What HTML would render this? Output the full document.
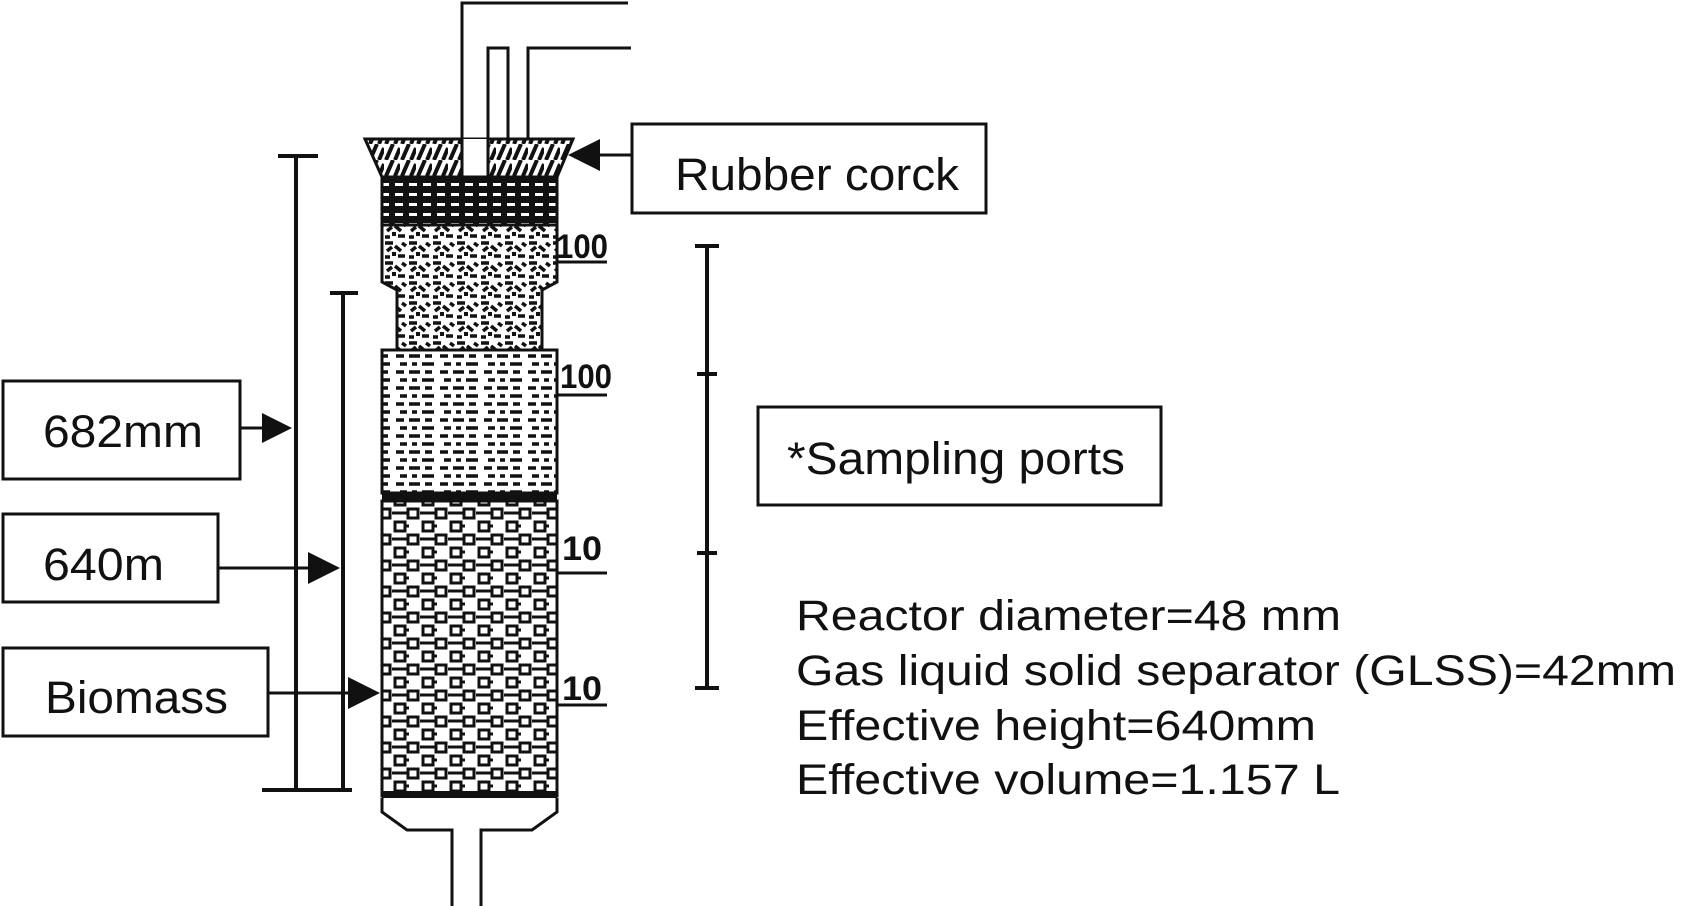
<!DOCTYPE html>
<html><head><meta charset="utf-8"><style>
html,body{margin:0;padding:0;background:#fff;}
svg{display:block;}
text{font-family:"Liberation Sans",sans-serif;fill:#111;}
</style></head><body>
<svg width="1691" height="906" viewBox="0 0 1691 906" xmlns="http://www.w3.org/2000/svg">
<defs>
<pattern id="hatch" width="16" height="16" patternUnits="userSpaceOnUse">
<rect width="16" height="16" fill="#fff"/>
<path d="M2 16 L9 0 M11 16 L16 4" stroke="#111" stroke-width="4"/>
</pattern>
<pattern id="mesh" width="14" height="10" patternUnits="userSpaceOnUse">
<rect width="14" height="10" fill="#111"/>
<rect x="3" y="3" width="8" height="3" fill="#fff"/>
</pattern>
<pattern id="gravel" width="24" height="20" patternUnits="userSpaceOnUse">
<rect width="24" height="20" fill="#fff"/>
<path d="M1 3 h8 M11 6 l6 5 M3 11 l5 -4 M14 16 h7 M1 17 h5 M18 3 l4 3" stroke="#111" stroke-width="3.5"/>
<rect x="8" y="12" width="4" height="4" fill="#111"/>
</pattern>
<pattern id="liquid" width="44" height="16" patternUnits="userSpaceOnUse">
<rect width="44" height="16" fill="#fff"/>
<path d="M0 4 h8 M13 4 h11 M29 4 h7 M4 12 h7 M16 12 h5 M26 12 h12" stroke="#111" stroke-width="3.5"/>
</pattern>
<pattern id="bio" width="28" height="26" patternUnits="userSpaceOnUse">
<rect width="28" height="26" fill="#fff"/>
<rect x="3" y="2" width="10" height="9" fill="none" stroke="#111" stroke-width="3"/>
<rect x="16" y="15" width="10" height="9" fill="none" stroke="#111" stroke-width="3"/>
<path d="M13 6 h4 M0 19 h16" stroke="#111" stroke-width="3"/>
</pattern>
</defs>

<!-- top pipes -->
<g stroke="#111" stroke-width="3" fill="none">
<path d="M462 177 V3 H628"/>
<path d="M488 177 V48 H508 V139"/>
<path d="M528 139 V48 H631"/>
</g>
<!-- cork -->
<path d="M365 139 H573 L557 177 H382 Z" fill="url(#hatch)" stroke="#111" stroke-width="3"/>
<rect x="462" y="139" width="26" height="38" fill="#fff"/>
<path d="M462 139 V177 M488 139 V177" stroke="#111" stroke-width="3"/>
<!-- mesh -->
<rect x="382" y="177" width="175" height="48" fill="url(#mesh)" stroke="#111" stroke-width="3"/>
<!-- gravel -->
<path d="M382 225 H557 V282 L542 290 V350 H397 V290 L382 282 Z" fill="url(#gravel)" stroke="#111" stroke-width="3"/>
<!-- liquid -->
<rect x="382" y="350" width="175" height="143" fill="url(#liquid)" stroke="#111" stroke-width="3"/>
<rect x="382" y="492" width="175" height="9" fill="#111"/>
<!-- biomass -->
<rect x="382" y="501" width="175" height="295" fill="url(#bio)" stroke="#111" stroke-width="3"/>
<rect x="382" y="791" width="175" height="7" fill="#111"/>
<!-- bottom cone -->
<path d="M382 798 V812 L407 830 H452 V906 M557 798 V812 L532 830 H481 V906" fill="none" stroke="#111" stroke-width="3"/>

<!-- ports -->
<g stroke="#111" stroke-width="3">
<path d="M557 262 H607"/><path d="M557 395 H607"/>
<path d="M557 573 H607"/><path d="M557 705 H607"/>
</g>
<g font-family="Liberation Serif" font-weight="bold" font-size="34">
<text x="556" y="258" textLength="52" lengthAdjust="spacingAndGlyphs">100</text>
<text x="560" y="388" textLength="52" lengthAdjust="spacingAndGlyphs">100</text>
<text x="562" y="560" textLength="40" lengthAdjust="spacingAndGlyphs">10</text>
<text x="562" y="700" textLength="40" lengthAdjust="spacingAndGlyphs">10</text>
</g>

<!-- left dimension lines -->
<g stroke="#111" stroke-width="4" fill="none">
<path d="M296 156 V790"/><path d="M278 156 H318"/>
<path d="M343 293 V790"/><path d="M330 293 H358"/>
<path d="M262 790 H352"/>
</g>
<!-- right dimension -->
<g stroke="#111" stroke-width="4" fill="none">
<path d="M707 246 V688"/><path d="M695 246 H719"/><path d="M695 688 H719"/>
<path d="M697 374 H717"/><path d="M697 553 H717"/>
</g>

<!-- boxes -->
<g stroke="#111" stroke-width="3" fill="#fff">
<rect x="3" y="381" width="237" height="98"/>
<rect x="3" y="514" width="215" height="88"/>
<rect x="3" y="648" width="265" height="88"/>
<rect x="632" y="124" width="354" height="89"/>
<rect x="758" y="407" width="403" height="98"/>
</g>
<g stroke="#111" stroke-width="3">
<path d="M240 428 H264"/><path d="M218 568 H310"/><path d="M268 693 H350"/>
<path d="M600 155 H632"/>
</g>
<g fill="#111">
<path d="M262 413 L292 428 L262 443 Z"/>
<path d="M308 552 L340 568 L308 584 Z"/>
<path d="M348 677 L380 693 L348 709 Z"/>
<path d="M600 139 L568 155 L600 171 Z"/>
</g>
<g font-size="45">
<text x="43" y="447" textLength="160" lengthAdjust="spacingAndGlyphs">682mm</text>
<text x="43" y="580" textLength="121" lengthAdjust="spacingAndGlyphs">640m</text>
<text x="45" y="713" textLength="183" lengthAdjust="spacingAndGlyphs">Biomass</text>
<text x="675" y="190" textLength="284" lengthAdjust="spacingAndGlyphs">Rubber corck</text>
<text x="787" y="474" textLength="338" lengthAdjust="spacingAndGlyphs">*Sampling ports</text>
</g>
<g font-size="43">
<text x="796" y="630" textLength="545" lengthAdjust="spacingAndGlyphs">Reactor diameter=48 mm</text>
<text x="796" y="685" textLength="880" lengthAdjust="spacingAndGlyphs">Gas liquid solid separator (GLSS)=42mm</text>
<text x="796" y="740" textLength="520" lengthAdjust="spacingAndGlyphs">Effective height=640mm</text>
<text x="796" y="794" textLength="544" lengthAdjust="spacingAndGlyphs">Effective volume=1.157 L</text>
</g>
</svg>
</body></html>
